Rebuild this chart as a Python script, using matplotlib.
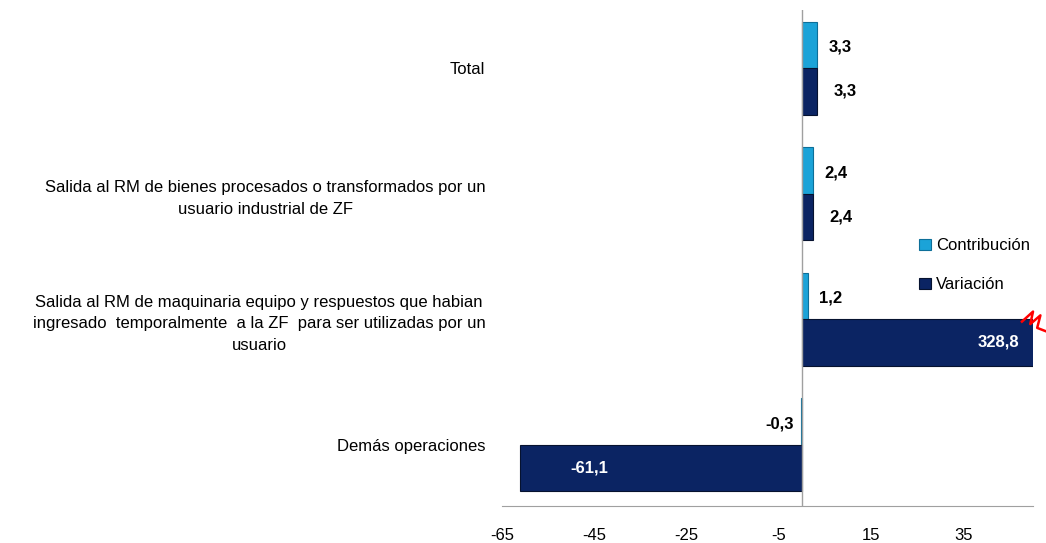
import numpy as np
import matplotlib.pyplot as plt

plt.rcParams['font.family'] = ['Liberation Sans Narrow', 'Liberation Sans', 'DejaVu Sans']

categories = [
    "Total",
    "Salida al RM de bienes procesados o transformados por un\nusuario industrial de ZF",
    "Salida al RM de maquinaria equipo y respuestos que habian\ningresado  temporalmente  a la ZF  para ser utilizadas por un\nusuario",
    "Demás operaciones",
]
contribucion = [3.3, 2.4, 1.2, -0.3]
variacion = [3.3, 2.4, 328.8, -61.1]
xticks = [-65, -45, -25, -5, 15, 35]

c_color = "#1ba3d8"
v_color = "#0b2463"

fig = plt.figure(figsize=(10.46, 5.43), dpi=100)
ax = fig.add_axes([0.48, 0.068, 0.5076, 0.914])

y = np.arange(len(categories))
h = 0.37
ax.barh(y - h / 2, contribucion, height=h, color=c_color, edgecolor="#0d6f99",
        linewidth=0.8, label="Contribución")
ax.barh(y + h / 2, variacion, height=h, color=v_color, edgecolor="#06122f",
        linewidth=0.8, label="Variación")

xmin, xmax = -65, 50
ax.set_xlim(xmin, xmax)
ax.set_ylim(3.49, -0.465)

def fmt(v):
    return f"{v:.1f}".replace(".", ",")

for yi, v in zip(y, contribucion):
    if v >= 0:
        ax.text(v + 2.5, yi - h / 2 + 0.02, fmt(v), ha="left", va="center",
                fontsize=12, fontweight="bold")
    else:
        ax.text(v - 1.5, yi - h / 2 + 0.02, fmt(v), ha="right", va="center",
                fontsize=12, fontweight="bold")
for yi, v in zip(y, variacion):
    if v > xmax:
        ax.text(xmax - 3, yi + h / 2, fmt(v), ha="right", va="center",
                fontsize=12, fontweight="bold", color="white")
    elif v < -20:
        ax.text(v + 15, yi + h / 2, fmt(v), ha="center", va="center",
                fontsize=12, fontweight="bold", color="white")
    else:
        ax.text(v + 3.5, yi + h / 2, fmt(v), ha="left", va="center",
                fontsize=12, fontweight="bold")

# break mark for the clipped bar
i_big = int(np.argmax(variacion))
zx = xmax + np.array([-2.4, 0.0, -0.6, 1.6, 0.9, 3.0])
zy = i_big + np.array([0.02, -0.06, 0.04, -0.03, 0.07, 0.1])
ax.plot(zx, zy, color="red", lw=1.8, clip_on=False, zorder=5)

ax.set_xticks(xticks)
ax.set_xticklabels([str(t) for t in xticks], fontsize=12)
ax.set_yticks(y)
ax.set_yticklabels(categories, fontsize=12, multialignment="center",
                   linespacing=1.55)
ax.tick_params(axis="x", length=0, pad=16)
ax.tick_params(axis="y", length=0, pad=12)

for s in ["top", "right", "left"]:
    ax.spines[s].set_visible(False)
ax.spines["bottom"].set_color("#a0a0a0")
ax.axvline(0, color="#a0a0a0", lw=1, zorder=3)

ax.legend(loc="center left", bbox_to_anchor=(0.757, 0.485), frameon=False,
          fontsize=12, handlelength=0.7, handleheight=0.7, labelspacing=1.45,
          handletextpad=0.3)

fig.savefig("out.png", dpi=100)
